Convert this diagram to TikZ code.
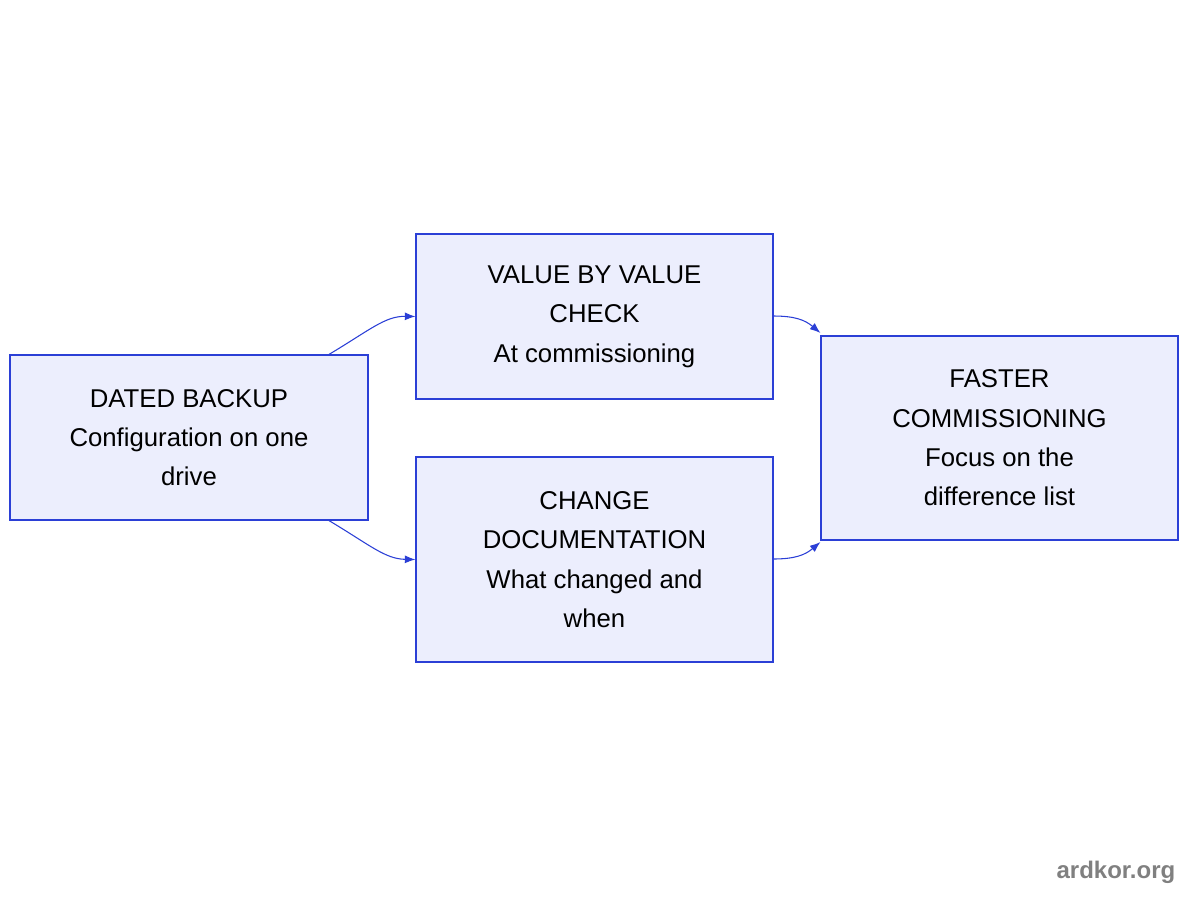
\documentclass[tikz,border=0pt]{standalone}
\usepackage{fontspec}
\setmainfont{Liberation Sans}
\usetikzlibrary{arrows.meta}
\definecolor{bfill}{HTML}{ECEEFD}
\definecolor{bline}{HTML}{2B3FD6}
\begin{document}
\begin{tikzpicture}[x=0.75pt,y=-0.75pt,
 box/.style={draw=bline,fill=bfill,line width=0.8pt,align=center,font=\fontsize{19.3}{29.5}\selectfont,inner sep=0pt},
 arr/.style={draw=bline,line width=0.8pt,-{Latex[length=8pt,width=6pt]}}]
\useasboundingbox (0,0) rectangle (1200,900);
\node[box,minimum width=358*0.75pt,minimum height=165*0.75pt] (a) at (189,437.5) {DATED BACKUP\\Configuration on one\\drive};
\node[box,minimum width=357*0.75pt,minimum height=165*0.75pt] (b) at (594.5,316.5) {VALUE BY VALUE\\CHECK\\At commissioning};
\node[box,minimum width=357*0.75pt,minimum height=205*0.75pt] (c) at (594.5,559.5) {CHANGE\\DOCUMENTATION\\What changed and\\when};
\node[box,minimum width=357*0.75pt,minimum height=204*0.75pt] (d) at (999.5,438) {FASTER\\COMMISSIONING\\Focus on the\\difference list};
\coordinate (a1) at (328,355);
\coordinate (a2) at (328,520);
\coordinate (b1) at (773,316);
\coordinate (c1) at (773,559);
\draw[arr] (a1) .. controls (370,330) and (385,316) .. (b.west);
\draw[arr] (a2) .. controls (370,545) and (385,559) .. (c.west);
\draw[arr] (b1) .. controls (795,316) and (805,320) .. (d.west |- 0,333);
\draw[arr] (c1) .. controls (795,559) and (805,555) .. (d.west |- 0,542);
\node[font=\fontsize{18}{20}\selectfont\bfseries,text=gray,anchor=east] (w) at (1180,872) {ardkor.org};
\end{tikzpicture}
\end{document}
